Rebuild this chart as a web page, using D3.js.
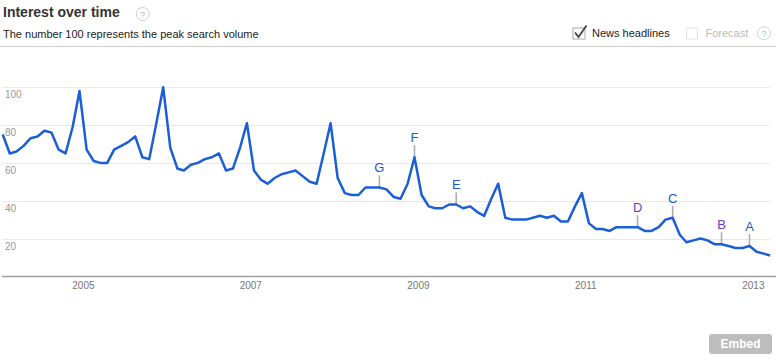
<!DOCTYPE html>
<html>
<head>
<meta charset="utf-8">
<script src="https://cdn.jsdelivr.net/npm/d3@7"></script>
<style>
  body { margin: 0; background: #fff; }
  svg { display: block; font-family: Arial, "Liberation Sans", sans-serif; }
</style>
</head>
<body>
<div id="chart"></div>
<script>
// monthly interest, Jan 2004 .. Mar 2013
const firstMonth = [2004, 0]
const interest = [
  75, 65, 66, 69, 73, 74, 77, 76, 67, 65, 79, 98,
  67, 61, 60, 60, 67, 69, 71, 74, 63, 62, 81, 100,
  68, 57, 56, 59, 60, 62, 63, 65, 56, 57, 68, 81,
  56, 51, 49, 52, 54, 55, 56, 53, 50, 49, 65, 81,
  52, 44, 43, 43, 47, 47, 47, 46, 42, 41, 49, 63,
  43, 37, 36, 36, 38, 38, 36, 37, 34, 32, 41, 49,
  31, 30, 30, 30, 31, 32, 31, 32, 29, 29, 37, 44,
  28, 25, 25, 24, 26, 26, 26, 26, 24, 24, 26, 30,
  31, 22, 18, 19, 20, 19, 17, 17, 16, 15, 15, 16,
  13, 12, 11
]
// news headline markers: letter + month index into interest
const markerLetters = ['G', 'F', 'E', 'D', 'C', 'B', 'A']
const markerMonths = [54, 59, 65, 91, 96, 103, 107]
const yTicks = [20, 40, 60, 80, 100]
const yearTicks = [2005, 2007, 2009, 2011, 2013]

const params = {
  fullWidth: 776,
  fullHeight: 362,
  plotLeft: -0.5,
  plotRight: 774,
  plotTop: 87.3,
  plotBottom: 276.3
}

const data = interest.map((v, i) => ({
  date: new Date(firstMonth[0], firstMonth[1] + i, 15),
  value: v
}))

const svg = d3.select('#chart').append('svg')
  .attr('width', params.fullWidth)
  .attr('height', params.fullHeight)

const x = d3.scaleTime()
  .domain([new Date(firstMonth[0], firstMonth[1], 1), new Date(firstMonth[0], firstMonth[1] + interest.length, 1)])
  .range([params.plotLeft, params.plotRight])

const y = d3.scaleLinear()
  .domain([0, 100])
  .range([params.plotBottom, params.plotTop])

// header
svg.append('text')
  .attr('x', 3).attr('y', 17)
  .attr('font-size', '14px').attr('font-weight', 'bold')
  .attr('fill', '#333')
  .text('Interest over time')

function helpIcon(cx, cy) {
  svg.append('circle')
    .attr('cx', cx).attr('cy', cy).attr('r', 6.5)
    .attr('fill', '#fff').attr('stroke', '#d0d0d0')
  svg.append('text')
    .attr('x', cx).attr('y', cy + 3.5)
    .attr('text-anchor', 'middle')
    .attr('font-size', '9.5px').attr('fill', '#bbb')
    .text('?')
}
helpIcon(142.7, 14)

svg.append('text')
  .attr('x', 3).attr('y', 38)
  .attr('font-size', '11px').attr('fill', '#222')
  .text('The number 100 represents the peak search volume')

// checkboxes
svg.append('rect')
  .attr('x', 573).attr('y', 28).attr('width', 12).attr('height', 11)
  .attr('fill', '#fff').attr('stroke', '#aaa')
svg.append('path')
  .attr('d', 'M575,32.5 L578.5,37 L586.5,25.5')
  .attr('fill', 'none').attr('stroke', '#444').attr('stroke-width', 1.8)
svg.append('text')
  .attr('x', 592).attr('y', 37)
  .attr('font-size', '11px').attr('fill', '#222')
  .text('News headlines')

svg.append('rect')
  .attr('x', 686.5).attr('y', 28).attr('width', 11).attr('height', 11)
  .attr('fill', '#fff').attr('stroke', '#e3e3e3')
svg.append('text')
  .attr('x', 705.5).attr('y', 37)
  .attr('font-size', '11px').attr('fill', '#bbb')
  .text('Forecast')
helpIcon(764, 33.3)

// separator
svg.append('line')
  .attr('x1', 0).attr('x2', params.fullWidth)
  .attr('y1', 46.5).attr('y2', 46.5)
  .attr('stroke', '#cfcfcf')

// gridlines + y labels
const grid = svg.append('g')
grid.selectAll('line').data(yTicks).enter().append('line')
  .attr('x1', 2).attr('x2', 770)
  .attr('y1', d => Math.round(y(d)) + 0.5)
  .attr('y2', d => Math.round(y(d)) + 0.5)
  .attr('stroke', '#e8e8e8')
grid.selectAll('text').data(yTicks).enter().append('text')
  .attr('x', 5)
  .attr('y', d => y(d) + 11)
  .attr('font-size', '10px').attr('fill', '#999')
  .text(d => d)

// x axis
svg.append('line')
  .attr('x1', 2).attr('x2', params.fullWidth)
  .attr('y1', 276.5).attr('y2', 276.5)
  .attr('stroke', '#a0a0a0').attr('stroke-width', 1.3)

const xAxisCall = d3.axisBottom(x)
  .tickValues(yearTicks.map(yr => new Date(yr, 0, 1)))
  .tickSize(0)
  .tickPadding(0)
  .tickFormat(d3.timeFormat('%Y'))
const xAxisGroup = svg.append('g')
  .attr('transform', 'translate(-0.5, 282)')
  .call(xAxisCall)
xAxisGroup.select('.domain').remove()
xAxisGroup.selectAll('text')
  .attr('font-size', '10px')
  .attr('font-family', 'Arial, "Liberation Sans", sans-serif')
  .attr('fill', '#777')

// markers (drawn under the line)
const markers = markerLetters.map((l, i) => ({ letter: l, d: data[markerMonths[i]] }))
const mg = svg.append('g')
mg.selectAll('line').data(markers).enter().append('line')
  .attr('x1', m => x(m.d.date)).attr('x2', m => x(m.d.date))
  .attr('y1', m => y(m.d.value)).attr('y2', m => y(m.d.value) - 12)
  .attr('stroke', '#aaa').attr('stroke-width', 1.5)
mg.selectAll('text').data(markers).enter().append('text')
  .attr('x', m => x(m.d.date))
  .attr('y', m => y(m.d.value) - 15)
  .attr('text-anchor', 'middle')
  .attr('font-size', '13px')
  .attr('fill', m => (m.letter === 'D' || m.letter === 'B') ? '#6a3cc8' : '#2258cc')
  .text(m => m.letter)

// interest line
svg.append('path')
  .datum(data)
  .attr('fill', 'none')
  .attr('stroke', '#1b5fd6')
  .attr('stroke-width', 2.5)
  .attr('stroke-linejoin', 'round')
  .attr('d', d3.line()
    .x(d => x(d.date))
    .y(d => y(d.value)))

// embed button
svg.append('rect')
  .attr('x', 709).attr('y', 334).attr('width', 63).attr('height', 20)
  .attr('rx', 3)
  .attr('fill', '#bdbdbd')
svg.append('text')
  .attr('x', 740.5).attr('y', 348)
  .attr('text-anchor', 'middle')
  .attr('font-size', '12px').attr('font-weight', 'bold')
  .attr('fill', '#fff')
  .text('Embed')
</script>
</body>
</html>
